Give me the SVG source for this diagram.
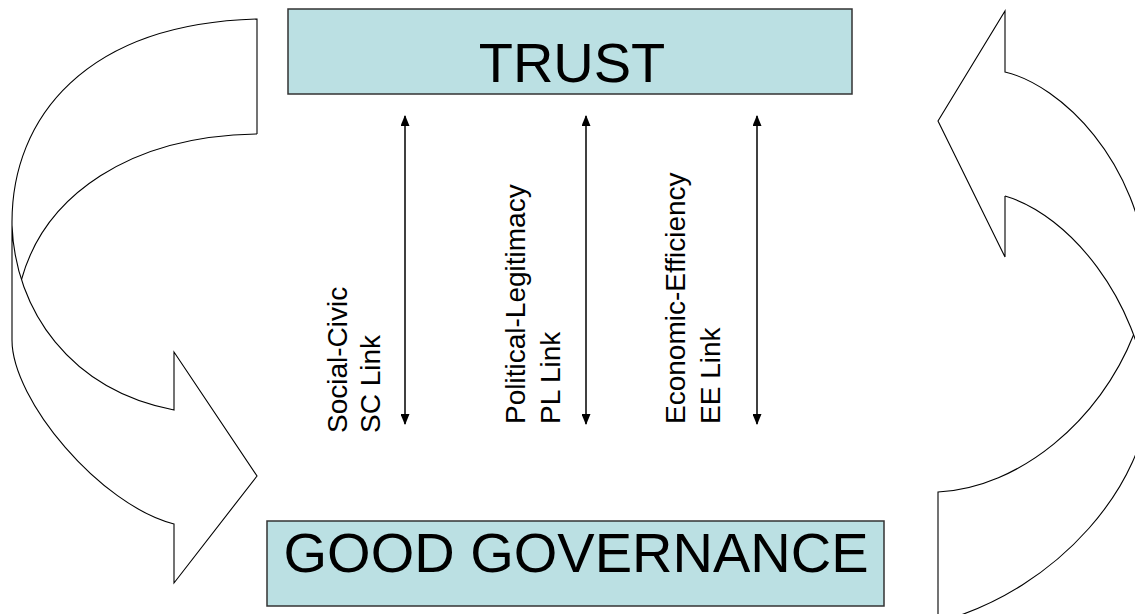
<svg xmlns="http://www.w3.org/2000/svg" width="1135" height="614" viewBox="0 0 1135 614">
  <style>
    .box { fill: #BBE0E3; stroke: #333333; stroke-width: 1.5; }
    .title { font-family: "Liberation Sans", Arial, sans-serif; font-size: 56px; fill: #000000; text-anchor: middle; }
    .label { font-family: "Liberation Sans", Arial, sans-serif; font-size: 28px; fill: #000000; }
    .band { fill: #FFFFFF; stroke: #000000; stroke-width: 1.1; stroke-linejoin: miter; }
    .face { fill: none; stroke: #000000; stroke-width: 1.1; }
    .link { stroke: #000000; stroke-width: 1.5; fill: none; marker-start: url(#head); marker-end: url(#head); }
  </style>
  <defs>
    <marker id="head" viewBox="0 0 11 9" refX="10" refY="4.5" markerWidth="11" markerHeight="9" markerUnits="userSpaceOnUse" orient="auto-start-reverse">
      <path d="M0,0 L11,4.5 L0,9 Z" fill="#000000"/>
    </marker>
  </defs>

  <!-- Left curved arrow: from the top of the page down into the lower box -->
  <g id="loop-left">
    <path class="band" d="M257,134 L257,19 C85,24 12,118 12,222 L12,340 C12,400 100,505 174,524 L174,583 L257,476 L174,352 L174,410 C70,390 15,310 12,225"/>
    <path class="face" d="M257,134 C130,136 45,195 21.5,279.5"/>
  </g>

  <!-- Right curved arrow: from the bottom of the page back up -->
  <g id="loop-right">
    <path class="band" d="M1005,196 L1005,257 L938,121 L1005,11 L1005,72 C1060,85 1140,160 1148,276 L1148,396 C1148,480 1060,590 938,622 L938,492 C1020,488 1100,420 1133.5,335"/>
    <path class="face" d="M1005,196 C1070,215 1138,300 1148,396"/>
  </g>

  <g id="trust">
    <rect class="box" x="288" y="9" width="564" height="85"/>
    <text class="title" x="572" y="82">TRUST</text>
  </g>

  <g id="good-governance">
    <rect class="box" x="267" y="521" width="617" height="85"/>
    <text class="title" x="576" y="572">GOOD GOVERNANCE</text>
  </g>

  <g id="connectors">
    <line class="link" x1="405" y1="116" x2="405" y2="424"/>
    <line class="link" x1="586" y1="116" x2="586" y2="424"/>
    <line class="link" x1="757" y1="116" x2="757" y2="424"/>
  </g>

  <g id="label-sc">
    <text class="label" transform="translate(347,433) rotate(-90)">
      <tspan x="0" y="0">Social-Civic</tspan>
      <tspan x="0" y="33">SC Link</tspan>
    </text>
  </g>
  <g id="label-pl">
    <text class="label" transform="translate(525,424) rotate(-90)">
      <tspan x="0" y="0">Political-Legitimacy</tspan>
      <tspan x="0" y="35">PL Link</tspan>
    </text>
  </g>
  <g id="label-ee">
    <text class="label" transform="translate(685,424) rotate(-90)">
      <tspan x="0" y="0">Economic-Efficiency</tspan>
      <tspan x="0" y="35">EE Link</tspan>
    </text>
  </g>
</svg>
